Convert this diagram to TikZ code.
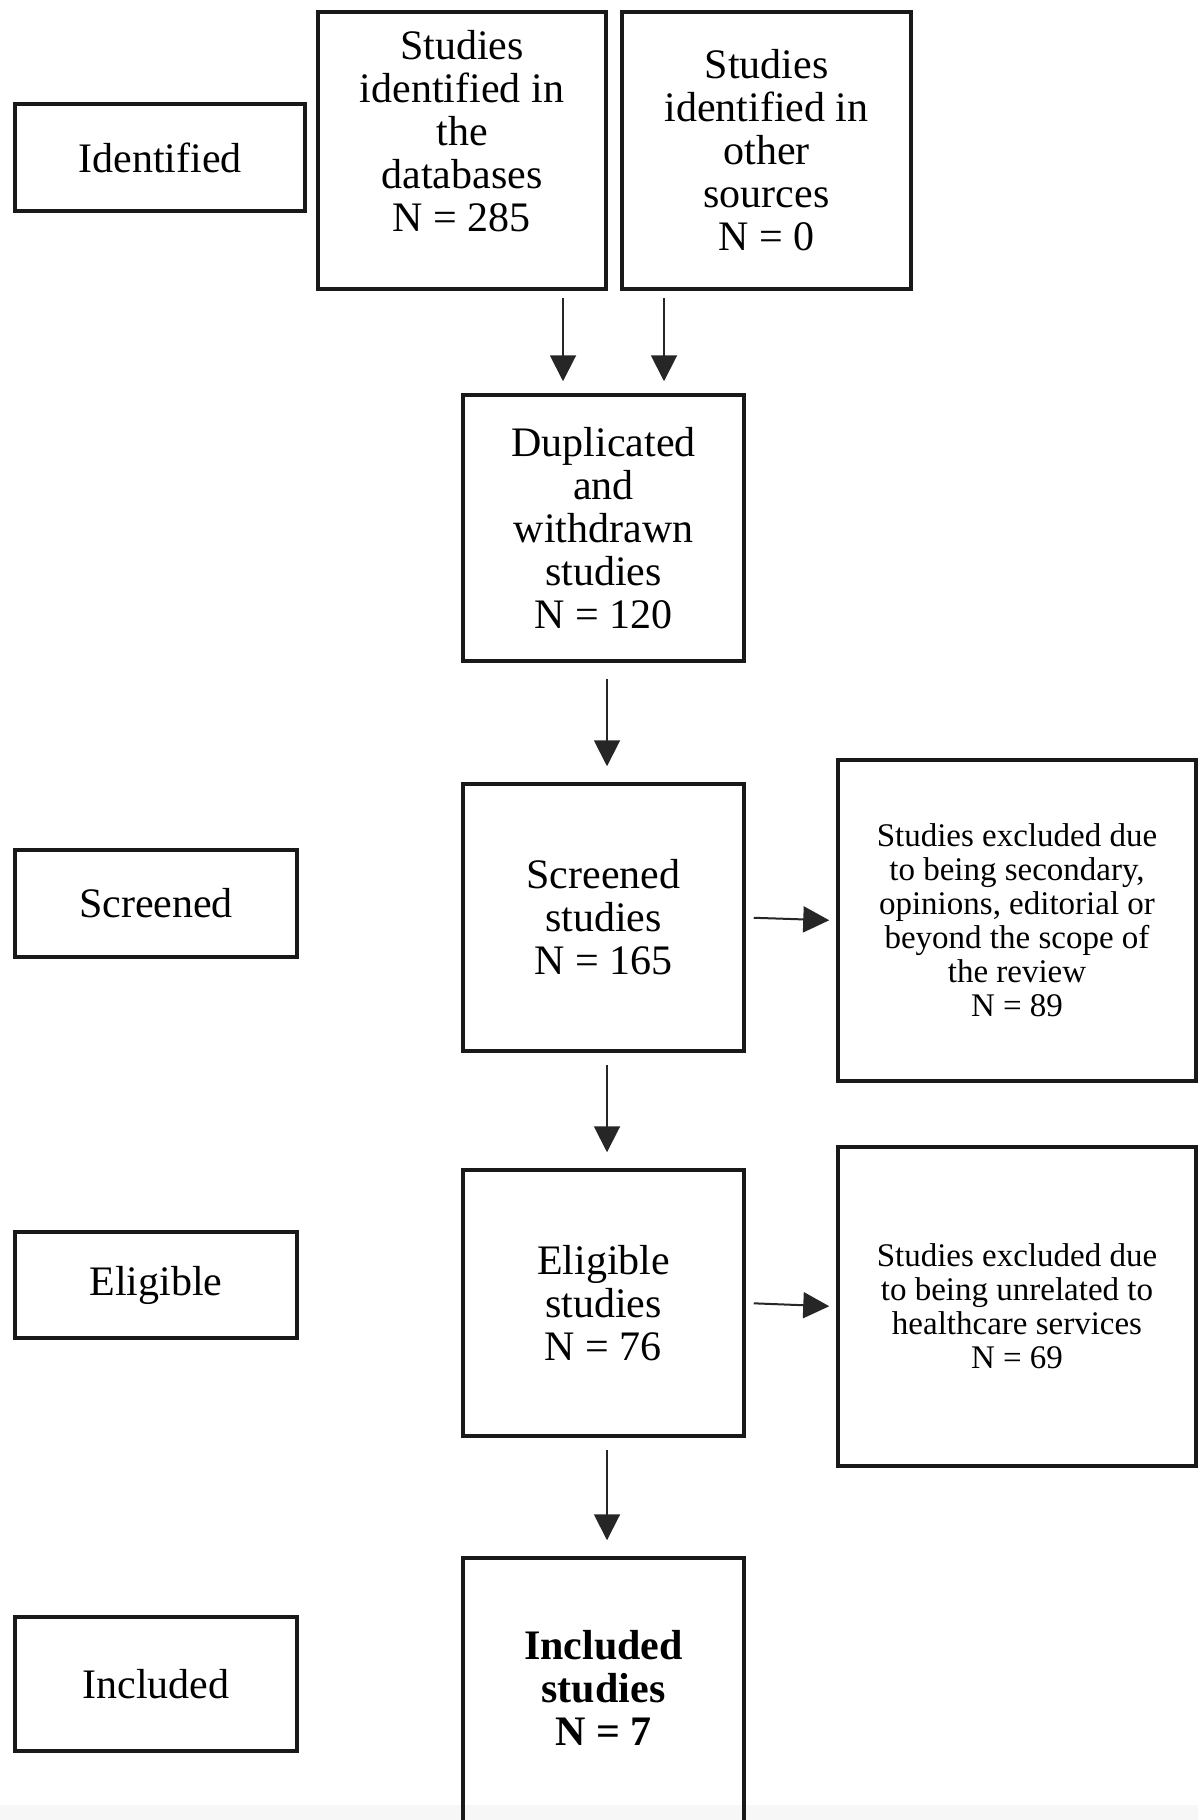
\documentclass[tikz,border=0pt]{standalone}
\usepackage{fontspec}
\setmainfont{Liberation Serif}
\usetikzlibrary{arrows.meta}
\begin{document}
\begin{tikzpicture}[x=1pt,y=-1pt,
  box/.style={draw=black!90,line width=3.5pt,rectangle,inner sep=0pt},
  big/.style={font=\fontsize{42}{43}\selectfont,align=center},
  small/.style={font=\fontsize{33}{34}\selectfont,align=center},
  arr/.style={draw=black!85,line width=2pt,-{Triangle[length=26pt,width=26pt]}}]
\useasboundingbox (0,0) rectangle (1198,1820);
\clip (0,0) rectangle (1198,1820);
\fill[black!3] (0,1805) rectangle (1198,1820);
% left labels
\node[box,big,minimum width=290pt,minimum height=107pt] (ident) at (160,157.5) {Identified};
\node[box,big,minimum width=282pt,minimum height=107pt] (scrl) at (156,903.5) {Screened};
\node[box,big,minimum width=282pt,minimum height=106pt] (elil) at (156,1285) {Eligible};
\node[box,big,minimum width=282pt,minimum height=134pt] (incl) at (156,1684) {Included};
% top boxes
\node[box,minimum width=288pt,minimum height=277pt] (db) at (462,150.5) {};
\node[big] (dbt) at (462,131.5) {Studies\\identified in\\the\\databases\\N = 285};
\node[box,big,minimum width=289pt,minimum height=277pt] (oth) at (766.5,150.5) {Studies\\identified in\\other\\sources\\N = 0};
% main column
\node[box,big,minimum width=281pt,minimum height=266pt] (dup) at (603.5,528) {Duplicated\\and\\withdrawn\\studies\\N = 120};
\node[box,big,minimum width=281pt,minimum height=267pt] (scr) at (603.5,917.5) {Screened\\studies\\N = 165};
\node[box,big,minimum width=281pt,minimum height=266pt] (eli) at (603.5,1303) {Eligible\\studies\\N = 76};
\node[box,minimum width=281pt,minimum height=300pt] (inc) at (603.5,1708) {};
\node[big,font=\fontsize{42}{43}\selectfont\bfseries] (inct) at (603.5,1688) {Included\\studies\\N = 7};
% exclusion boxes
\node[box,small,minimum width=358pt,minimum height=321pt] (ex1) at (1017,920.5) {Studies excluded due\\to being secondary,\\opinions, editorial or\\beyond the scope of\\the review\\N = 89};
\node[box,small,minimum width=358pt,minimum height=319pt] (ex2) at (1017,1306.5) {Studies excluded due\\to being unrelated to\\healthcare services\\N = 69};
% arrows
\coordinate (c1) at (563,0);
\coordinate (c2) at (664,0);
\coordinate (c3) at (607,0);
\draw[arr,shorten <=7pt,shorten >=12pt] (db.south -| c1) -- (dup.north -| c1);
\draw[arr,shorten <=7pt,shorten >=12pt] (oth.south -| c2) -- (dup.north -| c2);
\draw[arr,shorten <=16pt,shorten >=16pt] (dup.south -| c3) -- (scr.north -| c3);
\draw[arr,shorten <=12pt,shorten >=16pt] (scr.south -| c3) -- (eli.north -| c3);
\draw[arr,shorten <=12pt,shorten >=16pt] (eli.south -| c3) -- (inc.north -| c3);
\draw[arr,shorten <=8pt,shorten >=7pt] (scr.east) -- (ex1.west);
\draw[arr,shorten <=8pt,shorten >=7pt] (eli.east) -- (ex2.west);
\end{tikzpicture}
\end{document}
